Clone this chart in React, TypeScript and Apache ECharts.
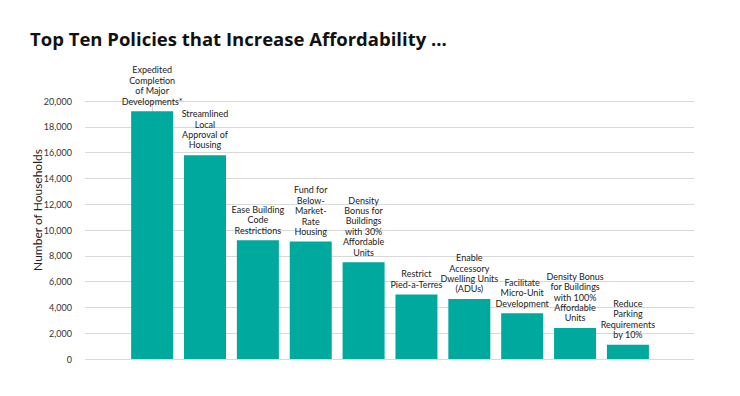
import React, { useEffect, useRef } from "react";
import * as echarts from "echarts";

const title = "Top Ten Policies that Increase Affordability ...";
const yAxisName = "Number of Households";
const categories = [
  "Expedited\nCompletion\nof Major\nDevelopments*",
  "Streamlined\nLocal\nApproval of\nHousing",
  "Ease Building\nCode\nRestrictions",
  "Fund for\nBelow-\nMarket-\nRate\nHousing",
  "Density\nBonus for\nBuildings\nwith 30%\nAffordable\nUnits",
  "Restrict\nPied-a-Terres",
  "Enable\nAccessory\nDwelling Units\n(ADUs)",
  "Facilitate\nMicro-Unit\nDevelopment",
  "Density Bonus\nfor Buildings\nwith 100%\nAffordable\nUnits",
  "Reduce\nParking\nRequirements\nby 10%",
];
const values = [19200, 15800, 9200, 9100, 7500, 5000, 4650, 3550, 2400, 1100];
const yMin = 0;
const yMax = 20000;
const yInterval = 2000;

const FONT = "Lato, 'Open Sans', sans-serif";

export default function App() {
  const ref = useRef<HTMLDivElement>(null);
  useEffect(() => {
    if (!ref.current) return;
    const chart = echarts.init(ref.current, undefined, { renderer: "svg" });
    chart.setOption({
      animation: false,
      backgroundColor: "#ffffff",
      title: {
        text: title,
        left: 25,
        top: 24,
        textStyle: { fontSize: 18.5, fontWeight: "bold", color: "#111", fontFamily: "'Open Sans', sans-serif" },
      },
      grid: { left: 85, right: 46, top: 101, bottom: 37 },
      xAxis: {
        type: "value",
        min: -1.27,
        max: 10.25,
        show: false,
      },
      yAxis: {
        type: "value",
        min: yMin,
        max: yMax,
        interval: yInterval,
        axisLine: { show: true, lineStyle: { color: "#d4d4d4" } },
        axisTick: { show: false },
        splitLine: { lineStyle: { color: "#d9d9d9" } },
        axisLabel: {
          margin: 13,
          fontSize: 9,
          color: "#333",
          fontFamily: FONT,
          formatter: (v: number) => v.toLocaleString("en-US"),
        },
      },
      graphic: [
        {
          type: "text",
          x: 37,
          y: 210,
          rotation: Math.PI / 2,
          style: {
            text: yAxisName,
            fontSize: 12,
            fill: "#222",
            fontFamily: FONT,
            textAlign: "center",
            textVerticalAlign: "middle",
          },
        },
      ],
      series: [
        {
          type: "bar",
          barWidth: 42,
          data: values.map((v, i) => [i, v]),
          itemStyle: { color: "#00a99d" },
          label: {
            show: true,
            position: "top",
            distance: 5,
            fontSize: 9,
            lineHeight: 10.4,
            color: "#222",
            fontFamily: FONT,
            align: "center",
            formatter: (p: any) => categories[p.dataIndex],
          },
        },
      ],
    });
    return () => chart.dispose();
  }, []);
  return (
    <div
      ref={ref}
      style={{ position: "fixed", left: 0, top: 0, width: 740, height: 396 }}
    />
  );
}
